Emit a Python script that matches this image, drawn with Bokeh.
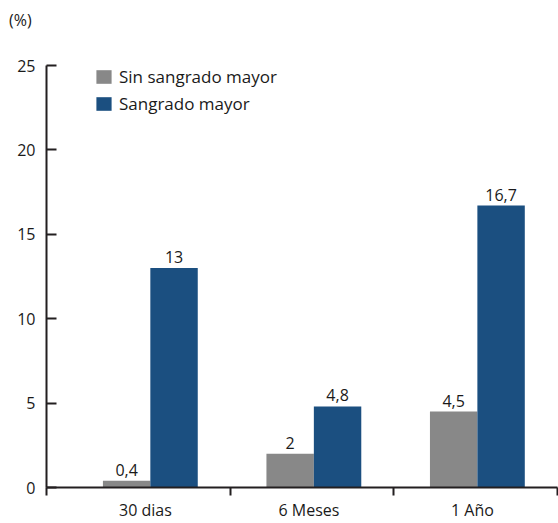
from bokeh.plotting import figure
from bokeh.layouts import column
from bokeh.models import Range1d, FixedTicker, Legend, LegendItem, ColumnDataSource, Div
from bokeh.core.properties import value
from bokeh.embed import file_html
from bokeh.resources import INLINE
import numpy as np

# Data
categories = ["30 dias", "6 Meses", "1 Año"]
sin_sangrado = [0.4, 2.0, 4.5]
con_sangrado = [13.0, 4.8, 16.7]
sin_labels = ["0,4", "2", "4,5"]
con_labels = ["13", "4,8", "16,7"]
y_ticks = [0, 5, 10, 15, 20, 25]
unit_text = "(%)"

FONT = "Open Sans"
GRAY = "#888888"
BLUE = "#1b4f80"
AXIS = "#231f20"
TEXT = "#1a1a1a"

W, H_HEAD, H_MAIN = 558, 30, 493

# Header strip carrying the unit label of the value axis
head = Div(text=(f'<div style="margin:0; padding:11px 0 0 9px; font-family:\'{FONT}\'; '
                 f'font-size:16px; line-height:18px; color:{TEXT}">{unit_text}</div>'),
           width=W, height=H_HEAD, margin=(0, 0, 0, 0))

idx = np.arange(len(categories))
center = idx + 0.51
bar_w = 0.29

p = figure(width=W, height=H_MAIN, output_backend="svg", toolbar_location=None,
           x_range=Range1d(-0.125, 3.0), y_range=Range1d(0, 25),
           min_border_left=46, min_border_right=1, min_border_top=35,
           min_border_bottom=35)
p.outline_line_color = None
p.grid.visible = False
p.background_fill_color = "white"
p.border_fill_color = "white"

src_gray = ColumnDataSource(dict(x=center - bar_w / 2, top=sin_sangrado, lab=sin_labels))
src_blue = ColumnDataSource(dict(x=center + bar_w / 2, top=con_sangrado, lab=con_labels))

r_gray = p.vbar(x="x", top="top", width=bar_w, bottom=0, source=src_gray,
                fill_color=GRAY, line_color=None)
r_blue = p.vbar(x="x", top="top", width=bar_w, bottom=0, source=src_blue,
                fill_color=BLUE, line_color=None)

for src in (src_gray, src_blue):
    p.text(x="x", y="top", text="lab", source=src, text_align="center",
           text_baseline="alphabetic", y_offset=-11, text_font=value(FONT),
           text_font_size="16px", text_color=TEXT)

# y axis: inward ticks
ya = p.yaxis[0]
ya.ticker = FixedTicker(ticks=y_ticks)
ya.axis_line_color = AXIS
ya.axis_line_width = 2
ya.major_tick_line_color = AXIS
ya.major_tick_line_width = 2
ya.major_tick_in = 10
ya.major_tick_out = 0
ya.minor_tick_line_color = None
ya.major_label_standoff = 11
ya.major_label_text_font = FONT
ya.major_label_text_font_size = "16px"
ya.major_label_text_color = TEXT

# x axis: labels at group centres, tick marks at group boundaries
xa = p.xaxis[0]
label_pos = [float(i) + 0.48 for i in idx]
xa.ticker = FixedTicker(ticks=label_pos, minor_ticks=[-0.125, 1, 2, 3])
xa.major_label_overrides = {pos: c for pos, c in zip(label_pos, categories)}
xa.axis_line_color = AXIS
xa.axis_line_width = 2
xa.major_tick_line_color = None
xa.major_tick_in = 0
xa.major_tick_out = 0
xa.minor_tick_line_color = AXIS
xa.minor_tick_line_width = 2
xa.minor_tick_in = 0
xa.minor_tick_out = 8
xa.major_label_standoff = 3
xa.major_label_text_font = FONT
xa.major_label_text_font_size = "16px"
xa.major_label_text_color = TEXT

legend = Legend(items=[LegendItem(label="Sin sangrado mayor", renderers=[r_gray]),
                       LegendItem(label="Sangrado mayor", renderers=[r_blue])],
                location=(48, 372), orientation="vertical",
                glyph_width=19, glyph_height=17, spacing=4, padding=0, margin=0,
                label_standoff=6, label_text_font=FONT, label_text_font_size="17px",
                label_text_color=TEXT, border_line_color=None,
                background_fill_alpha=0)
p.add_layout(legend)

layout = column(head, p, spacing=0)
open("out.html", "w").write(file_html(layout, INLINE))
